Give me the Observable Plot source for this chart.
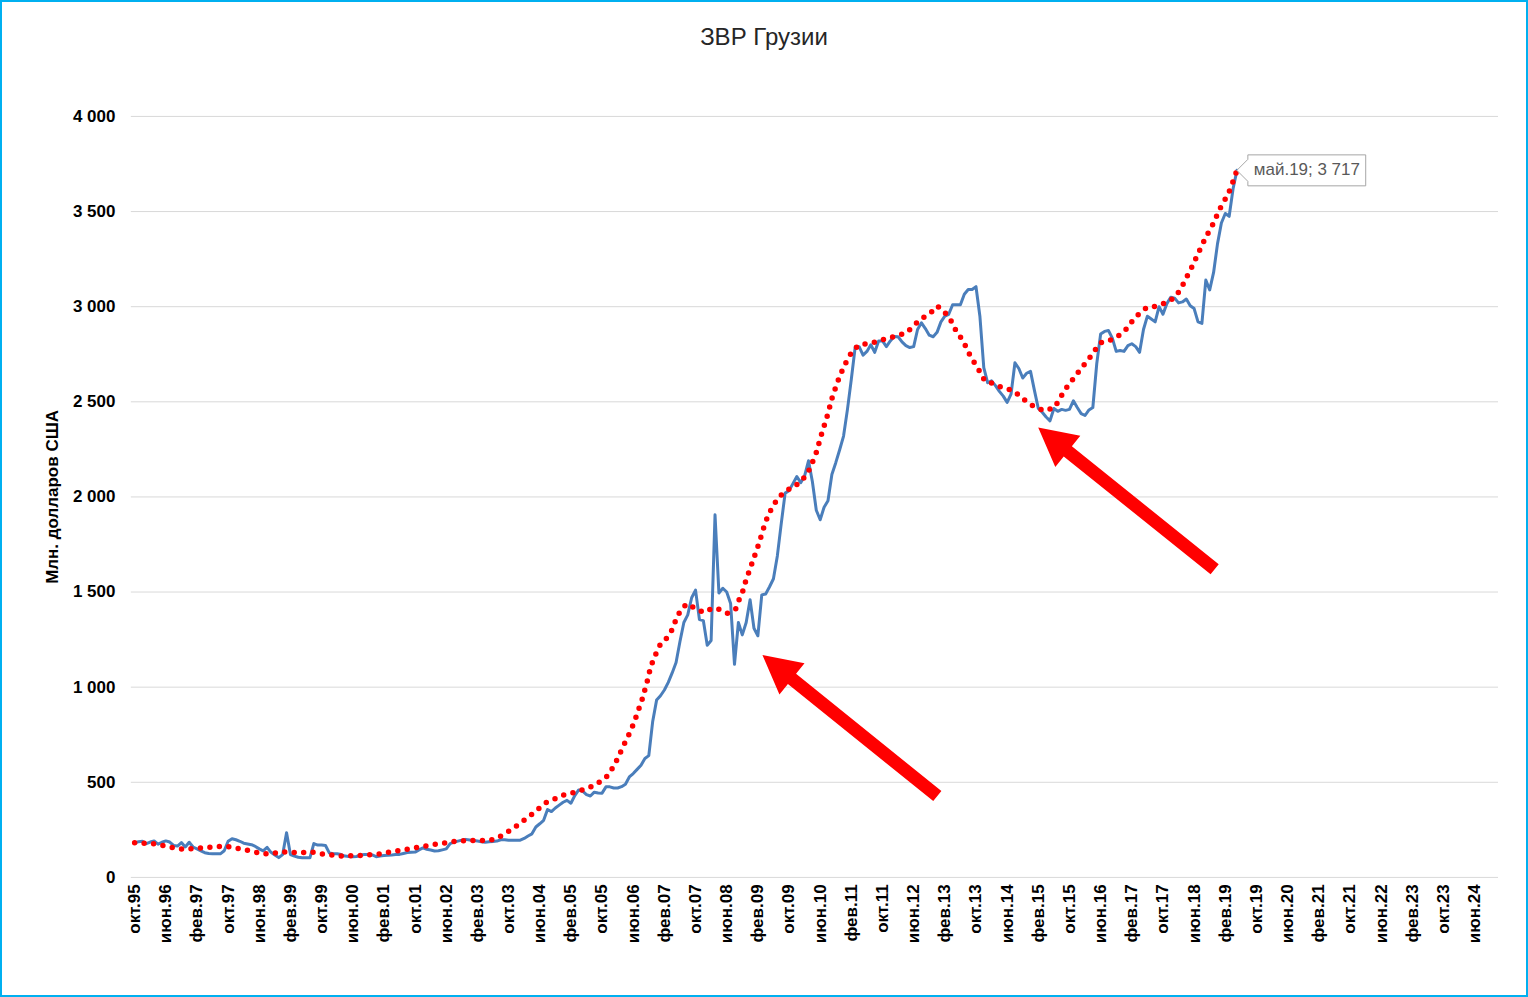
<!DOCTYPE html>
<html><head><meta charset="utf-8">
<script src="https://cdn.jsdelivr.net/npm/d3@7"></script>
<script src="https://cdn.jsdelivr.net/npm/@observablehq/plot@0.6"></script>
<style>
html,body{margin:0;padding:0;background:#fff;}
#frame{position:relative;width:1528px;height:997px;box-sizing:border-box;border:2px solid #00B0F0;overflow:hidden;font-family:"Liberation Sans",Arial,sans-serif;}
#title{position:absolute;left:0;top:21px;width:100%;text-align:center;font-size:24px;line-height:28px;color:#262626;}
#chart{position:absolute;left:-2px;top:58px;}
#chart svg g[aria-label="tip"] text{font-weight:normal;fill:#595959;}
</style></head><body>
<div id="frame"><div id="title">ЗВР Грузии</div><div id="chart"></div></div>
<script>
// Monthly series starts in October 1995 (index 0)
const startYear = 1995;
const startMonth = 9; // 0-based: October
const monthNames = ["янв","фев","мар","апр","май","июн","июл","авг","сен","окт","ноя","дек"];

// Official reserves of Georgia, mln USD, monthly Oct 1995 – May 2019
const reserves = [
  180,188,190,177,186,192,175,185,192,186,
  168,165,183,160,185,160,150,140,130,126,
  124,124,124,140,190,203,198,190,180,176,
  172,163,150,140,158,132,118,104,120,235,
  120,112,106,103,103,103,178,170,170,168,
  128,125,124,120,112,110,109,110,118,121,
  121,118,109,113,115,117,118,120,121,126,
  131,132,133,145,155,148,144,139,140,145,
  150,178,186,191,196,200,197,194,191,188,
  185,187,189,191,198,198,195,195,196,196,
  205,218,229,265,282,300,357,346,365,380,
  395,405,390,430,460,453,435,428,448,444,
  443,476,476,470,470,477,490,528,546,568,
  590,625,640,820,932,955,985,1025,1075,1130,
  1240,1340,1380,1470,1510,1355,1350,1220,1245,1906,
  1495,1520,1500,1440,1120,1340,1275,1340,1460,1310,
  1270,1485,1490,1528,1570,1690,1860,2020,2033,2070,
  2107,2075,2110,2190,2080,1930,1880,1946,1980,2118,
  2180,2248,2320,2460,2620,2790,2790,2745,2765,2800,
  2760,2820,2820,2790,2820,2843,2842,2815,2795,2785,
  2790,2880,2915,2885,2850,2842,2865,2920,2950,2960,
  3010,3010,3010,3065,3090,3090,3105,2950,2680,2600,
  2610,2585,2555,2530,2497,2540,2705,2675,2625,2650,
  2660,2560,2465,2445,2420,2400,2465,2450,2460,2455,
  2460,2505,2470,2438,2428,2457,2470,2700,2856,2870,
  2875,2835,2765,2770,2765,2795,2805,2790,2760,2880,
  2950,2935,2920,3000,2960,3016,3050,3045,3020,3025,
  3040,3005,2990,2920,2912,3140,3088,3180,3330,3440,
  3490,3475,3620,3717
];

// Red dotted trend (month index, value)
const trendMonth = [0,5,10,12.3,17.5,22.6,25,30,32.6,35,37.5,42.6,45,47.8,53,58,63,68,73,78,83,85.7,91,93,95.5,97.6,101.7,105.5,107.9,110,112.7,115.2,117.5,119.7,121.8,122.9,124.2,125.2,126.3,127.4,128.4,129.2,130.1,130.8,131.5,132.1,132.8,133.8,134.9,136.6,138,138.9,140,141.7,143.8,146,148.4,150.5,152.2,154.3,155.2,156.2,156.9,158.6,160.3,161.8,162.7,163.9,165.3,167.2,169.3,171.3,172.9,173.9,174.9,176.3,177.9,179.2,180.9,181.9,183,184.3,186,188.6,191,193.5,195.9,198.3,200.1,202.1,204.2,206.1,207.9,209.6,210.8,212.1,213.4,214.5,215.8,217.1,218.3,220.4,222.8,225.1,227.3,229.2,231.4,233.7,236.1,237.4,238.6,240.2,241.7,243.2,244.9,246.4,247.9,250.2,252.5,254.5,256,257.9,259.9,262.4,264.8,266.9,268.4,269.6,270.7,271.9,272.9,274,275,276.3,277.4,278.4,279.7,280.9,281.8,283];
const trendValue = [182,177,156,148,156,164,159,138,124,124,135,129,135,124,113,115,124,142,159,177,191,194,194,205,235,264,327,392,413,432,446,462,479,506,541,584,632,681,725,773,824,873,922,973,1022,1075,1124,1174,1222,1258,1302,1351,1398,1438,1416,1393,1416,1407,1389,1411,1460,1508,1559,1657,1757,1858,1906,1953,1997,2032,2054,2086,2130,2177,2226,2326,2431,2531,2629,2676,2723,2767,2800,2807,2819,2835,2847,2865,2903,2938,2964,3003,2973,2926,2877,2837,2790,2742,2698,2655,2609,2597,2574,2562,2531,2496,2469,2453,2469,2511,2557,2600,2641,2681,2723,2767,2810,2821,2846,2881,2921,2964,2996,3003,3021,3047,3087,3134,3180,3227,3276,3320,3367,3411,3458,3507,3554,3600,3647,3717];

const yTicks = [0,500,1000,1500,2000,2500,3000,3500,4000];
const xTickStep = 8;
const xTickLast = 344; // июн.24
const yLabel = "Млн. долларов США";
const lastLabel = "май.19; 3 717";

// annotation arrows: from (month, value) to (month, value)
const arrowFromMonth = [206.2, 277.4];
const arrowFromValue = [425, 1617];
const arrowToMonth = [161.3, 232.1];
const arrowToValue = [1166, 2362];

const monthLabel = (i) => {
  const m = startMonth + i;
  const yr = (startYear + Math.floor(m / 12)) % 100;
  return monthNames[m % 12] + "." + String(yr).padStart(2, "0");
};
const numFmt = (v) => d3.format(",")(v).replace(/,/g, " ");

const series = reserves.map((v, i) => ({i, v}));
const trend = trendMonth.map((m, k) => ({i: m, v: trendValue[k]}));
const xTicks = d3.range(0, xTickLast + 1, xTickStep);
const arrows = arrowFromMonth.map((m, k) => ({x1: m, y1: arrowFromValue[k], x2: arrowToMonth[k], y2: arrowToValue[k]}));

function arrowMark(index, scales) {
  const g = d3.create("svg:g").attr("aria-label", "arrows");
  for (const a of arrows) {
    const x1 = scales.x(a.x1), y1 = scales.y(a.y1), x2 = scales.x(a.x2), y2 = scales.y(a.y2);
    const dx = x2 - x1, dy = y2 - y1, L = Math.hypot(dx, dy);
    const ux = dx / L, uy = dy / L, nx = -uy, ny = ux;
    const sw = 6.5, hw = 20, hl = 38;
    const bx = x2 - ux * hl, by = y2 - uy * hl;
    const pts = [
      [x1 + nx * sw, y1 + ny * sw], [bx + nx * sw, by + ny * sw], [bx + nx * hw, by + ny * hw],
      [x2, y2], [bx - nx * hw, by - ny * hw], [bx - nx * sw, by - ny * sw], [x1 - nx * sw, y1 - ny * sw]
    ];
    g.append("path").attr("d", "M" + pts.map(p => p.join(",")).join("L") + "Z").attr("fill", "#ff0000");
  }
  return g.node();
}

const chart = Plot.plot({
  width: 1528,
  height: 935,
  marginLeft: 131,
  marginRight: 28,
  marginTop: 56,
  marginBottom: 117,
  style: {fontFamily: "'Liberation Sans', Arial, sans-serif", fontSize: "17px", fontWeight: "bold", color: "#000", background: "#fff"},
  x: {type: "linear", domain: [-0.85, 350.15]},
  y: {domain: [0, 4000]},
  marks: [
    Plot.gridY(yTicks, {stroke: "#d9d9d9", strokeOpacity: 1, strokeWidth: 1}),
    Plot.axisY(yTicks, {tickFormat: numFmt, tickSize: 0, tickPadding: 16, fontSize: 17, label: yLabel, labelAnchor: "center", labelOffset: 86, labelArrow: "none"}),
    Plot.axisX(xTicks, {tickFormat: monthLabel, tickRotate: -90, tickSize: 0, tickPadding: 7, fontSize: 17, label: null}),
    Plot.lineY(series, {x: "i", y: "v", stroke: "#4a7ebb", strokeWidth: 3}),
    Plot.line(trend, {x: "i", y: "v", stroke: "#ff0000", strokeWidth: 5.5, strokeDasharray: "0 9.5", strokeLinecap: "round"}),
    arrowMark,
    Plot.tip([series[series.length - 1]], {x: "i", y: "v", title: () => lastLabel, anchor: "left", fontSize: 17, fill: "white", stroke: "#a6a6a6", pointerSize: 22, textPadding: 6, pathFilter: "none"})
  ]
});
document.getElementById("chart").appendChild(chart);
</script></body></html>
